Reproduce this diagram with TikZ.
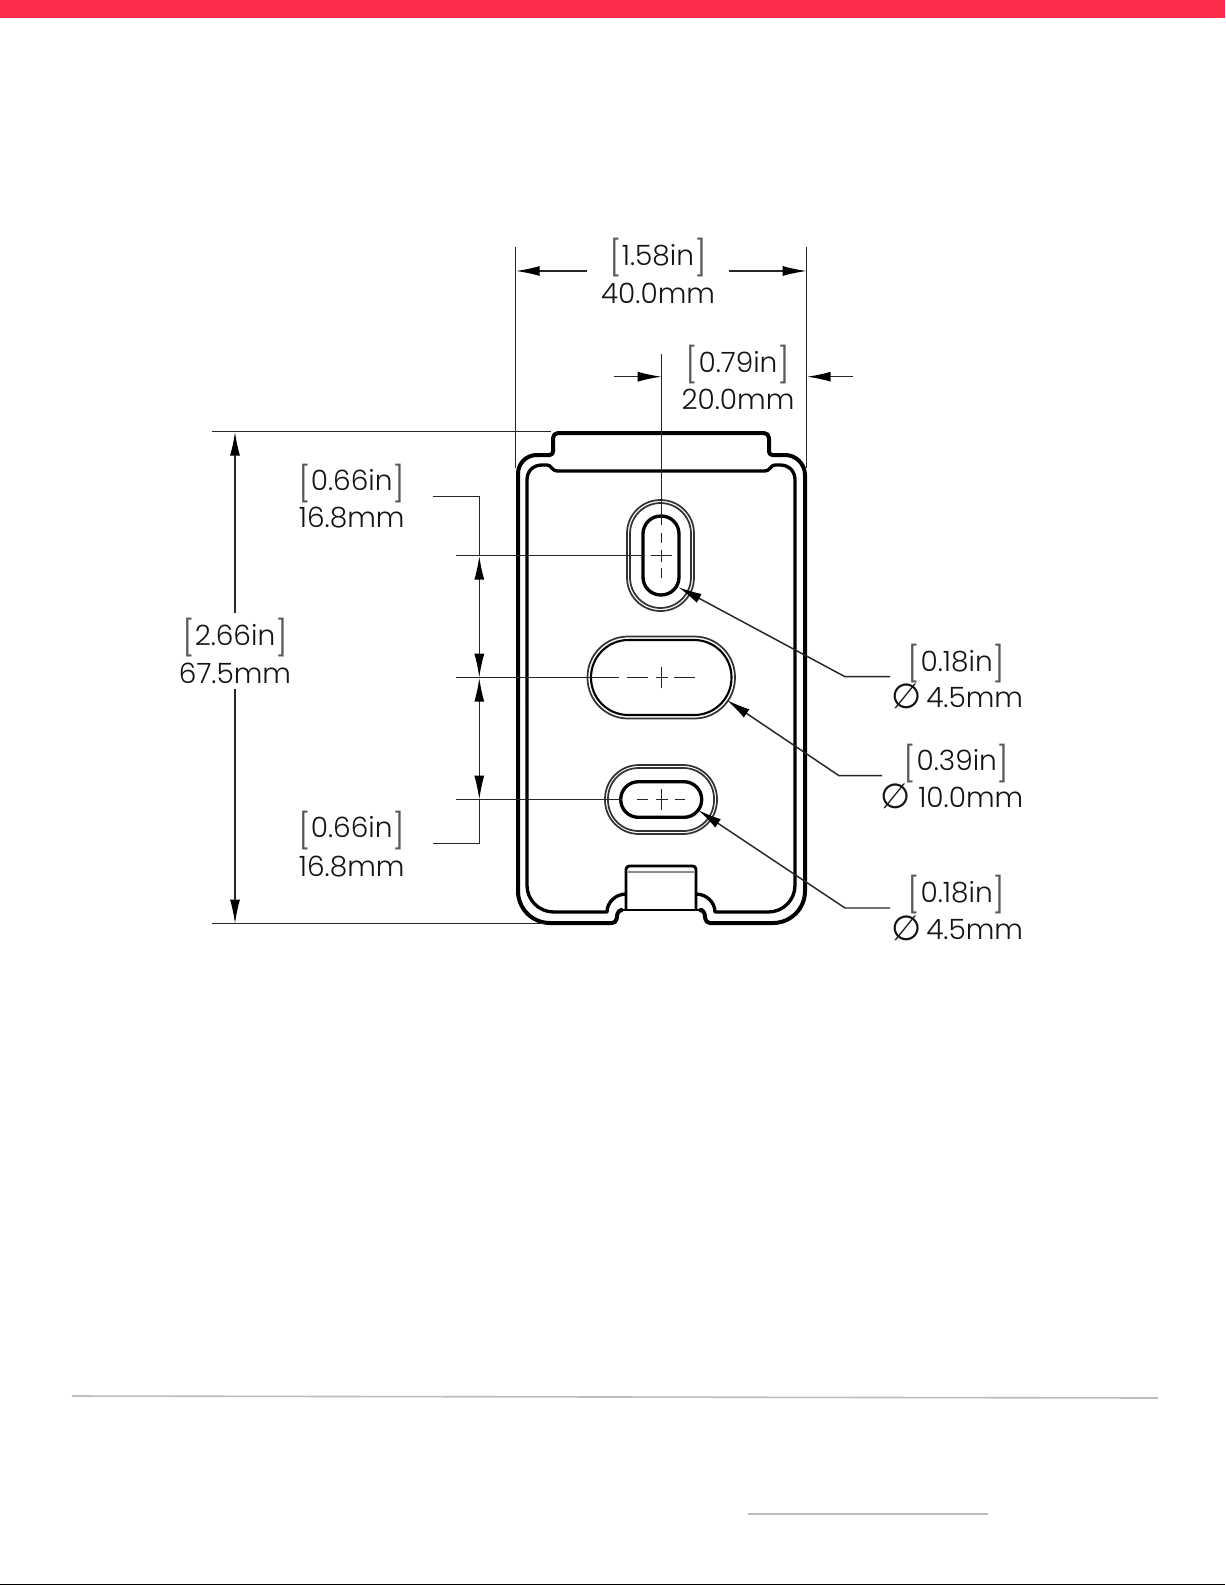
\documentclass[tikz,border=0pt]{standalone}
\usepackage{fontspec}
\setmainfont[UprightFont=* Light]{Poppins}
\newfontfamily\phifont{DejaVu Sans}
\usetikzlibrary{arrows.meta}
\definecolor{topred}{HTML}{FF2D4B}
\definecolor{inkc}{HTML}{141414}
\definecolor{rulec}{HTML}{BDBDBD}
\newcommand{\brkc}[1]{\textcolor{black!65}{\raisebox{-0.2em}{\fontsize{26}{26}\selectfont#1}}}
\newcommand{\brk}[1]{\brkc{[}#1\brkc{]}}
\tikzset{
 dimtxt/.style={inner sep=0pt,text=inkc,font=\fontsize{21}{24}\selectfont,anchor=center},
 dimline/.style={line width=1.1pt,draw=black!85},
 dimarrow/.style={dimline,-{Latex[length=18pt,width=7.5pt,fill=black,black]}},
 heavy/.style={line width=3pt,draw=black,line join=round},
 heavyin/.style={line width=2.5pt,draw=black,line join=round},
 medium/.style={line width=1.6pt,draw=black},
 fine/.style={line width=1.3pt,draw=black!80},
 cline/.style={line width=1.1pt,draw=black!85},
}
\begin{document}
\begin{tikzpicture}[x=0.75pt,y=-0.75pt]
\useasboundingbox (0,0) rectangle (1225,1585);
\fill[white] (0,0) rectangle (1225,1585);
\fill[topred] (0,0) rectangle (1225,17.5);
\fill[black] (0,1583.5) rectangle (1225,1585);
\draw[rulec,line width=1.2pt] (72,1396) -- (1158,1398);
\draw[rulec,line width=1.1pt] (748,1514) -- (988,1514);

% body outer outline
\draw[heavy] (518,700) [rounded corners=14pt] -- (518,455) [rounded corners=2.5pt] -- (553,455)
  [rounded corners=3.75pt] -- (553,433) -- (769,433) [rounded corners=2.5pt] -- (769,455)
  [rounded corners=15pt] -- (805,455) [rounded corners=24pt] -- (805,923)
  [rounded corners=3pt] -- (706,923) -- (704,910) [sharp corners] -- (703,910);
\draw[heavy] (518,700) [rounded corners=24pt] -- (518,923) [rounded corners=3pt] -- (616,923)
  -- (618,910) [sharp corners] -- (620,910);
\draw[medium] (620,910) -- (703,910);
% body inner outline
\draw[heavyin] (527,700) -- (527,480) .. controls (527,471) and (533,465) .. (542,465) -- (547,465)
  .. controls (552,465) and (551,471) .. (558,471) -- (764,471)
  .. controls (771,471) and (770,465) .. (775,465) -- (780,465)
  .. controls (789,465) and (795,471) .. (795,480)
  [rounded corners=20pt] -- (795,912) [sharp corners] -- (715,912)
  .. controls (715,902) and (706,894) .. (696,894);
\draw[heavyin] (527,700) [rounded corners=20pt] -- (527,912) [sharp corners] -- (607,912)
  .. controls (607,902) and (616,894) .. (626,894);
% bottom tab
\draw[heavyin,line width=2.2pt] (626,909) [rounded corners=2.5pt] -- (626,866) -- (696,866) [sharp corners] -- (696,909);
\draw[fine,draw=black!45] (628,872) -- (694,872);

% top slot
\draw[fine,rounded corners=25pt] (627,500) rectangle (694,611);
\draw[fine,rounded corners=23pt] (630,503) rectangle (691,608);
\draw[heavyin,rounded corners=13.4pt] (643,516) rectangle (679,595);
% middle slot
\draw[fine,rounded corners=30.5pt] (587.5,636.5) rectangle (735,718.5);
\draw[medium,rounded corners=28pt] (591,640) rectangle (731.5,715);
% bottom slot
\draw[fine,rounded corners=25.5pt] (605,765) rectangle (717,834);
\draw[fine,rounded corners=23pt] (608,768) rectangle (714,831);
\draw[heavyin,rounded corners=13.3pt] (620.7,781.7) rectangle (701.7,817.3);

% centre marks
\coordinate (c1) at (661.7,555.7);
\coordinate (c2) at (661.7,677.7);
\coordinate (c3) at (661.7,799.7);
\draw[cline] ([xshift=-8pt]c1) -- ([xshift=8pt]c1) ([yshift=-4.5pt]c1) -- ([yshift=4.5pt]c1);
\draw[cline] ([xshift=-4.5pt]c2) -- ([xshift=4.5pt]c2) ([yshift=-8pt]c2) -- ([yshift=8pt]c2);
\draw[cline] ([xshift=-4.5pt]c3) -- ([xshift=4.5pt]c3) ([yshift=-8pt]c3) -- ([yshift=8pt]c3);
\draw[cline] (661.7,533) -- (661.7,543) (661.7,568) -- (661.7,578);
\draw[cline] (637,799.7) -- (648,799.7) (675,799.7) -- (685,799.7);
\draw[cline] (627,677.7) -- (648,677.7) (674,677.7) -- (695,677.7);

% top 40mm dimension
\coordinate (tl) at (515.7,247); \coordinate (tlb) at (515.7,468);
\coordinate (tr) at (806.7,247); \coordinate (trb) at (806.7,468);
\draw[dimline] (tl) -- (tlb);
\draw[dimline] (tr) -- (trb);
\coordinate (a1t) at (587,271); \coordinate (a1h) at (515.7,271);
\coordinate (a2t) at (729.3,271); \coordinate (a2h) at (806.7,271);
\draw[dimarrow] (a1t) -- (a1h);
\draw[dimarrow] (a2t) -- (a2h);
\node[dimtxt] (t1a) at (658,258) {\brk{1.58in}};
\node[dimtxt] (t1b) at (658,293) {40.0mm};

% 20mm dimension
\coordinate (cv) at (661.7,354); \coordinate (cvb) at (661.7,525);
\draw[dimline] (cv) -- (cvb);
\coordinate (a3t) at (614.3,376.7); \coordinate (a3h) at (661.7,376.7);
\coordinate (a4t) at (853,376.7); \coordinate (a4h) at (806.7,376.7);
\draw[dimarrow] (a3t) -- (a3h);
\draw[dimarrow] (a4t) -- (a4h);
\node[dimtxt] (t2a) at (738,365) {\brk{0.79in}};
\node[dimtxt] (t2b) at (738,399) {20.0mm};

% 67.5 dimension
\coordinate (lt) at (211.7,431.7); \coordinate (lte) at (551,431.7);
\coordinate (lb) at (211.7,923.7); \coordinate (lbe) at (545,923.7);
\draw[dimline] (lt) -- (lte);
\draw[dimline] (lb) -- (lbe);
\coordinate (v1) at (235,612.7); \coordinate (v1h) at (235,431.7);
\coordinate (v2) at (235,689); \coordinate (v2h) at (235,923.7);
\draw[dimarrow] (v1) -- (v1h);
\draw[dimarrow] (v2) -- (v2h);
\node[dimtxt] (t3a) at (235,638) {\brk{2.66in}};
\node[dimtxt] (t3b) at (235,673) {67.5mm};

% 16.8 dimensions
\coordinate (h1) at (456,555.7); \coordinate (h1e) at (643,555.7);
\coordinate (h2) at (456,677.7); \coordinate (h2e) at (619,677.7);
\coordinate (h3) at (456,799.7); \coordinate (h3e) at (622,799.7);
\draw[dimline] (h1) -- (h1e); \draw[dimline] (h2) -- (h2e); \draw[dimline] (h3) -- (h3e);
\coordinate (q1) at (432.7,496.7); \coordinate (q1c) at (479.3,496.7);
\coordinate (q2) at (432.7,843.7); \coordinate (q2c) at (479.3,843.7);
\coordinate (p1) at (479.3,555.7); \coordinate (p2) at (479.3,677.7); \coordinate (p3) at (479.3,799.7);
\draw[dimline] (q1) -- (q1c) -- (p1);
\draw[dimline] (q2) -- (q2c) -- (p3);
\coordinate (m1) at (479.3,616); \coordinate (m2) at (479.3,739);
\draw[dimarrow] (m1) -- (p1);
\draw[dimarrow] (m1) -- (p2);
\draw[dimarrow] (m2) -- (p2);
\draw[dimarrow] (m2) -- (p3);
\node[dimtxt] (t4a) at (351.7,483.5) {\brk{0.66in}};
\node[dimtxt] (t4b) at (351.7,518) {16.8mm};
\node[dimtxt] (t5a) at (351.7,830.5) {\brk{0.66in}};
\node[dimtxt] (t5b) at (351.7,866.7) {16.8mm};

% diameter leaders
\coordinate (e1) at (890,676.7); \coordinate (k1) at (845,676.7); \coordinate (k1h) at (678,587);
\coordinate (e2) at (882,775.7); \coordinate (k2) at (839,775.7); \coordinate (k2h) at (726.7,700);
\coordinate (e3) at (890,908); \coordinate (k3) at (845,908); \coordinate (k3h) at (698,810);
\draw[dimarrow] (e1) -- (k1) -- (k1h);
\draw[dimarrow] (e2) -- (k2) -- (k2h);
\draw[dimarrow] (e3) -- (k3) -- (k3h);
\newcommand{\phisym}{{\phifont\fontsize{26}{26}\selectfont\symbol{"2205}}}
\node[dimtxt] (t6a) at (956.7,664) {\brk{0.18in}};
\node[dimtxt,anchor=west] (t6b) at (926,698) {4.5mm};
\node[dimtxt] (s6) at (906.7,696) {\phisym};
\node[dimtxt] (t7a) at (956.7,763.5) {\brk{0.39in}};
\node[dimtxt,anchor=west] (t7b) at (918,797) {10.0mm};
\node[dimtxt] (s7) at (896,796) {\phisym};
\node[dimtxt] (t8a) at (956.7,895) {\brk{0.18in}};
\node[dimtxt,anchor=west] (t8b) at (926,930) {4.5mm};
\node[dimtxt] (s8) at (906.7,928) {\phisym};
\end{tikzpicture}
\end{document}
